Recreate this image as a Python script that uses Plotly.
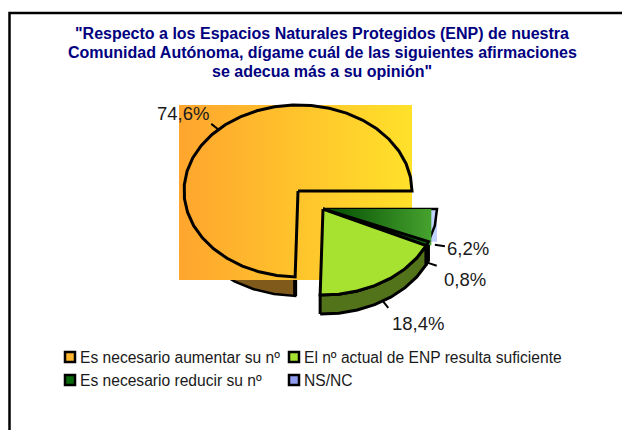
import math
import plotly.graph_objects as go

categories = ['Es necesario aumentar su nº', 'El nº actual de ENP resulta suficiente',
              'Es necesario reducir su nº', 'NS/NC']
values = [74.6, 18.4, 0.8, 6.2]
value_labels = ['74,6%', '18,4%', '0,8%', '6,2%']
title_lines = ['"Respecto a los Espacios Naturales Protegidos (ENP) de nuestra',
               'Comunidad Autónoma, dígame cuál de las siguientes afirmaciones',
               'se adecua más a su opinión"']
legend_colors = ['#ffb52e', '#a6e22f', '#0b6a0b', '#8f9cf0']

FONT = 'Liberation Sans'
RX, RY, DEPTH = 114, 86, 19
BACK = (298, 191)    # centre of the big slice
FRONT = (323, 209)   # centre of the slices pulled out


def arc(c, a0, a1, dy=0, step=9):
    n = max(int(abs(a1 - a0) / step), 1)
    angs = [a0 + (a1 - a0) * i / n for i in range(n + 1)]
    return ([c[0] + RX * math.cos(math.radians(a)) for a in angs],
            [c[1] - RY * math.sin(math.radians(a)) + dy for a in angs])


def wedge(c, a0, a1):
    xs, ys = arc(c, a0, a1)
    return [c[0]] + xs + [c[0]], [c[1]] + ys + [c[1]]


def poly(xs, ys, color=None, grad=None, line=0):
    d = dict(x=xs, y=ys, mode='lines', showlegend=False, hoverinfo='skip',
             line=dict(color='black', width=line))
    if grad:
        d.update(fill='toself', fillcolor='rgba(0,0,0,0)', fillgradient=dict(type='horizontal', colorscale=[[0, grad[0]], [1, grad[1]]]))
    elif color:
        d.update(fill='toself', fillcolor=color)
    return go.Scatter(**d)


# slice angles, running counterclockwise from east
angles = [0]
for v in values:
    angles.append(angles[-1] + v * 3.6)

fig = go.Figure()

# walls of the big slice
xs, ys = arc(BACK, 215, angles[1], DEPTH)
xt, yt = arc(BACK, angles[1], 215)
fig.add_trace(poly(xs + xt, ys + yt, color='#7f5a1a', line=2.5))
fig.add_trace(poly([xs[-1], xt[0]], [ys[-1], yt[0]], line=4))

# big slice, with the gradient box it is painted in
x0, x1 = BACK[0] - RX - 5, BACK[0] + RX
y0, y1 = BACK[1] - RY, BACK[1] + RY + 3
fig.add_trace(poly([x0, x1, x1, x0, x0], [y0, y0, y1, y1, y0], grad=('#ffa52e', '#ffe12a')))
xs, ys = wedge(BACK, angles[0], angles[1])
fig.add_trace(poly(xs, ys, line=3))

# NS/NC, also inside its box
xa, ya = arc(FRONT, angles[3], angles[3])
xb = FRONT[0] + RX
fig.add_trace(poly([FRONT[0], xb, xb, FRONT[0], FRONT[0]], [FRONT[1] - 1, FRONT[1] - 1, ya[0], ya[0], FRONT[1] - 1],
                   color='#c2d2ff'))
xs, ys = wedge(FRONT, angles[3], 360)
fig.add_trace(poly(xs, ys, line=2.5))

# wall of the green slice, the thin slice has a black wall
xs, ys = arc(FRONT, angles[1], angles[2], DEPTH)
xt, yt = arc(FRONT, angles[2], angles[1])
fig.add_trace(poly(xs + xt + xs[:1], ys + yt + ys[:1], color='#52731a', line=3))
xs, ys = arc(FRONT, angles[2], angles[3], DEPTH)
xt, yt = arc(FRONT, angles[3], angles[2])
fig.add_trace(poly(xs + xt + xs[:1], ys + yt + ys[:1], color='black', line=3))

# green gradient over the small slices
xr = FRONT[0] + RX * 0.95
xa, ya = arc(FRONT, angles[2], angles[2])
fig.add_trace(poly([FRONT[0], xr, xr, FRONT[0]], [FRONT[1], FRONT[1], ya[0], FRONT[1]],
                   grad=('#004a00', '#46a22e')))

xs, ys = wedge(FRONT, angles[2], angles[3])
fig.add_trace(poly(xs, ys, color='#0b6a0b', line=3))
xs, ys = wedge(FRONT, angles[1], angles[2])
fig.add_trace(poly(xs, ys, color='#a6e22f', line=3))

# leader lines and value labels
label_pos = [(183, 113), (418, 323), (465, 279), (468, 248)]
drops = [0, DEPTH, DEPTH, DEPTH]
for i, c in enumerate([BACK, FRONT, FRONT, FRONT]):
    mid = (angles[i] + angles[i + 1]) / 2
    cs, sn = math.cos(math.radians(mid)), math.sin(math.radians(mid))
    fig.add_trace(go.Scatter(x=[c[0] + RX * cs, c[0] + RX * 1.09 * cs],
                             y=[c[1] - RY * sn + drops[i], c[1] - RY * 1.09 * sn + drops[i]],
                             mode='lines', line=dict(color='black', width=2),
                             showlegend=False, hoverinfo='skip'))
    fig.add_annotation(x=label_pos[i][0], y=label_pos[i][1], text=value_labels[i], showarrow=False,
                       font=dict(family=FONT, size=18.5, color='#1a1a1a'))

# legend
legend_pos = [(70, 357), (294, 357), (70, 380), (294, 380)]
for i, name in enumerate(categories):
    fig.add_trace(go.Scatter(x=[legend_pos[i][0]], y=[legend_pos[i][1]], mode='markers',
                             marker=dict(symbol='square', size=10, color=legend_colors[i],
                                         line=dict(color='black', width=2.5)),
                             showlegend=False, hoverinfo='skip'))
    fig.add_annotation(x=legend_pos[i][0] + 8, y=legend_pos[i][1], text=name, showarrow=False,
                       xanchor='left', font=dict(family=FONT, size=15.6, color='#1a1a1a'))

for i, line in enumerate(title_lines):
    fig.add_annotation(x=322, y=33.5 + i * 19, text=line, showarrow=False,
                       font=dict(family=FONT, size=16, color='#000080', weight='bold'))

fig.update_layout(width=622, height=430, margin=dict(l=0, r=0, t=0, b=0), autosize=False,
                  paper_bgcolor='white', plot_bgcolor='white',
                  xaxis=dict(range=[0, 622], visible=False),
                  yaxis=dict(range=[430, 0], visible=False))
# chart frame, runs off the right and bottom edge
fig.add_shape(type='rect', x0=9.5, y0=13, x1=640, y1=450, line=dict(color='black', width=2.5))

fig.write_html("out.html", config=dict(displayModeBar=False),
               post_script="document.body.style.margin='0';document.body.style.overflow='hidden';")
